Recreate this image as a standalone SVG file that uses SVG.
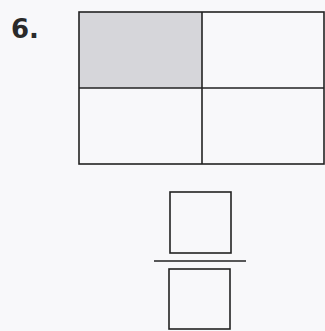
<svg xmlns="http://www.w3.org/2000/svg" width="325" height="331" viewBox="0 0 325 331">
<style>
.ln{fill:none;stroke:#222;stroke-width:1.6}
.lbl{font-family:"DejaVu Sans","Liberation Sans",sans-serif;font-weight:bold;fill:#2a2a2a}
</style>
<rect width="325" height="331" fill="#f8f8fa"/>
<text class="lbl" x="11" y="37.5" font-size="26">6.</text>
<g id="grid">
<rect x="79" y="12" width="123" height="76" fill="#d6d6da"/>
<rect class="ln" x="79" y="12" width="245" height="152"/>
<line class="ln" x1="202" y1="12" x2="202" y2="164"/>
<line class="ln" x1="79" y1="88" x2="324" y2="88"/>
</g>
<g id="numerator"><rect class="ln" x="170" y="192" width="61" height="61"/></g>
<g id="fraction-bar"><line class="ln" x1="154" y1="261" x2="246" y2="261"/></g>
<g id="denominator"><rect class="ln" x="169" y="269" width="61" height="60"/></g>
</svg>
